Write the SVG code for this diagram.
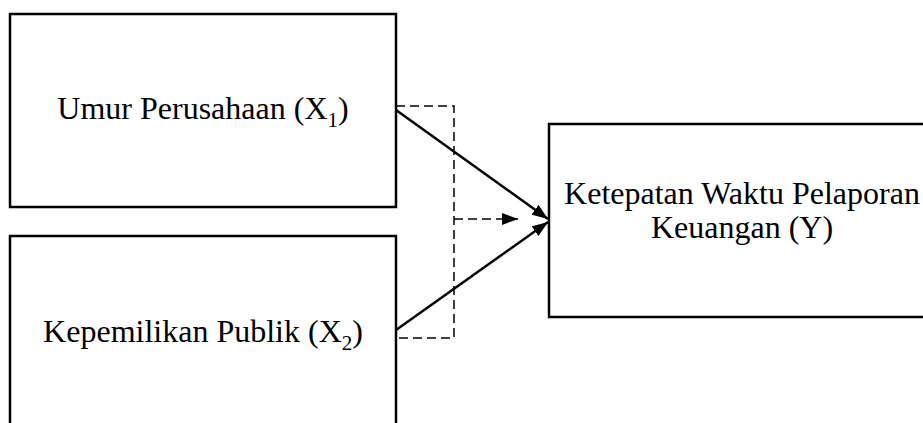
<svg xmlns="http://www.w3.org/2000/svg" width="923" height="423" viewBox="0 0 923 423">
<style>
.box{fill:#fff;stroke:#000;stroke-width:2.5}
.lbl{font-family:"Liberation Serif","Times New Roman",serif;font-size:32px;fill:#000;text-anchor:middle}
.solid{stroke:#000;stroke-width:2.5;fill:none}
.dash{stroke:#000;stroke-width:1.5;fill:none;stroke-dasharray:9,5}
</style>
<defs>
<marker id="ah" markerWidth="16" markerHeight="12" refX="16" refY="6" orient="auto" markerUnits="userSpaceOnUse">
<path d="M0,0 L16,6 L0,12 Z" fill="#000"/>
</marker>
</defs>
<rect width="923" height="423" fill="#fff"/>
<g id="node-x1">
<rect class="box" x="10" y="14" width="386" height="193"/>
<text class="lbl" x="203" y="119">Umur Perusahaan (X<tspan font-size="21" dy="8">1</tspan><tspan dy="-8">)</tspan></text>
</g>
<g id="node-x2">
<rect class="box" x="10" y="236" width="386" height="200"/>
<text class="lbl" x="203" y="342">Kepemilikan Publik (X<tspan font-size="21" dy="8">2</tspan><tspan dy="-8">)</tspan></text>
</g>
<g id="node-y">
<rect class="box" x="549" y="124" width="390" height="193"/>
<text class="lbl" x="742" y="204">Ketepatan Waktu Pelaporan</text>
<text class="lbl" x="742" y="238">Keuangan (Y)</text>
</g>
<g id="connectors">
<path class="dash" d="M396,106 H454 V338 H396"/>
<line class="dash" x1="454" y1="219" x2="518" y2="219" marker-end="url(#ah)"/>
<line class="solid" x1="396" y1="110" x2="548" y2="219" marker-end="url(#ah)"/>
<line class="solid" x1="396" y1="330" x2="548" y2="222" marker-end="url(#ah)"/>
</g>
</svg>
